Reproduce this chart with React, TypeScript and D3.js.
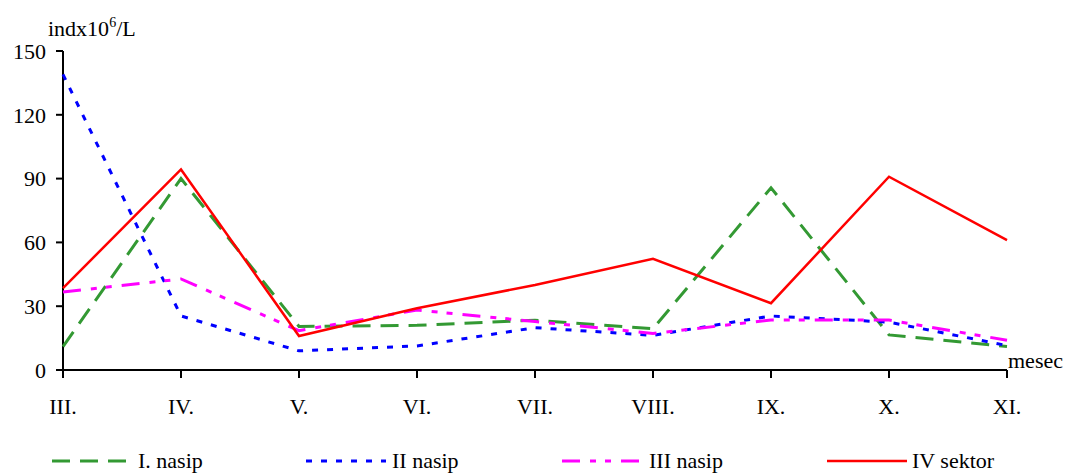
import React from "react";
import * as d3 from "d3";

const categories = ["III.", "IV.", "V.", "VI.", "VII.", "VIII.", "IX.", "X.", "XI."];
const nasip1 = [11, 90, 20.5, 21, 23.4, 19.4, 85.7, 16.5, 11];
const nasip2 = [139, 25.4, 9, 11.3, 19.9, 16.3, 25.4, 22.5, 11.5];
const nasip3 = [36.7, 42.8, 18.5, 28.2, 22.8, 17.2, 23.5, 23.5, 14];
const sektor4 = [38.5, 94.3, 16, 29, 40, 52.3, 31.4, 90.9, 61.1];
const yTicks = [0, 30, 60, 90, 120, 150];
const seriesNames = ["I. nasip", "II nasip", "III nasip", "IV sektor"];

const W = 1068;
const H = 473;
const FONT = "'Liberation Serif', 'Times New Roman', serif";

export default function App() {
  const x = d3.scalePoint<string>().domain(categories).range([63, 1007]);
  const y = d3.scaleLinear().domain([0, 150]).range([370, 51]);
  const line = d3
    .line<number>()
    .x((_, i) => x(categories[i]) as number)
    .y((d) => y(d));

  const series = [
    { name: seriesNames[0], data: nasip1, color: "#339933", dash: "18,10", width: 3, lx: 52, tx: 138 },
    { name: seriesNames[1], data: nasip2, color: "#0000FF", dash: "6,9", width: 3, lx: 306, tx: 392 },
    { name: seriesNames[2], data: nasip3, color: "#FF00FF", dash: "18,10,6,9,6,10", width: 3, lx: 562, tx: 649 },
    { name: seriesNames[3], data: sektor4, color: "#FF0000", dash: "none", width: 2.5, lx: 827, tx: 912 },
  ];

  return (
    <svg
      width={W}
      height={H}
      style={{ position: "absolute", left: 0, top: 0, background: "#fff" }}
      fontFamily={FONT}
    >
      <rect x={0} y={0} width={W} height={H} fill="#fff" />
      {/* y axis */}
      <line x1={63} x2={63} y1={y(150)} y2={y(0)} stroke="#000" strokeWidth={2} />
      {yTicks.map((t) => (
        <g key={t}>
          <line x1={56} x2={63} y1={y(t)} y2={y(t)} stroke="#000" strokeWidth={2} />
          <text x={46} y={y(t)} dy="0.35em" textAnchor="end" fontSize={22}>
            {t}
          </text>
        </g>
      ))}
      {/* x axis */}
      <line x1={63} x2={1007} y1={y(0)} y2={y(0)} stroke="#000" strokeWidth={2} />
      {categories.map((c) => (
        <g key={c}>
          <line x1={x(c)} x2={x(c)} y1={y(0)} y2={y(0) + 8} stroke="#000" strokeWidth={2} />
          <text x={x(c)} y={414} textAnchor="middle" fontSize={22}>
            {c}
          </text>
        </g>
      ))}
      <text x={1008} y={368} fontSize={22}>
        mesec
      </text>
      <text x={48} y={36} fontSize={22}>
        indx10
        <tspan fontSize={14} dy={-9}>
          6
        </tspan>
        <tspan dy={9}>/L</tspan>
      </text>
      {series.map((s) => (
        <path
          key={s.name}
          d={line(s.data) || ""}
          fill="none"
          stroke={s.color}
          strokeWidth={s.width}
          strokeDasharray={s.dash}
          strokeLinejoin="miter"
        />
      ))}
      {series.map((s) => (
        <g key={"lg" + s.name}>
          <line
            x1={s.lx}
            x2={s.lx + 80}
            y1={461}
            y2={461}
            stroke={s.color}
            strokeWidth={s.width}
            strokeDasharray={s.dash}
          />
          <text x={s.tx} y={468} fontSize={22}>
            {s.name}
          </text>
        </g>
      ))}
    </svg>
  );
}
